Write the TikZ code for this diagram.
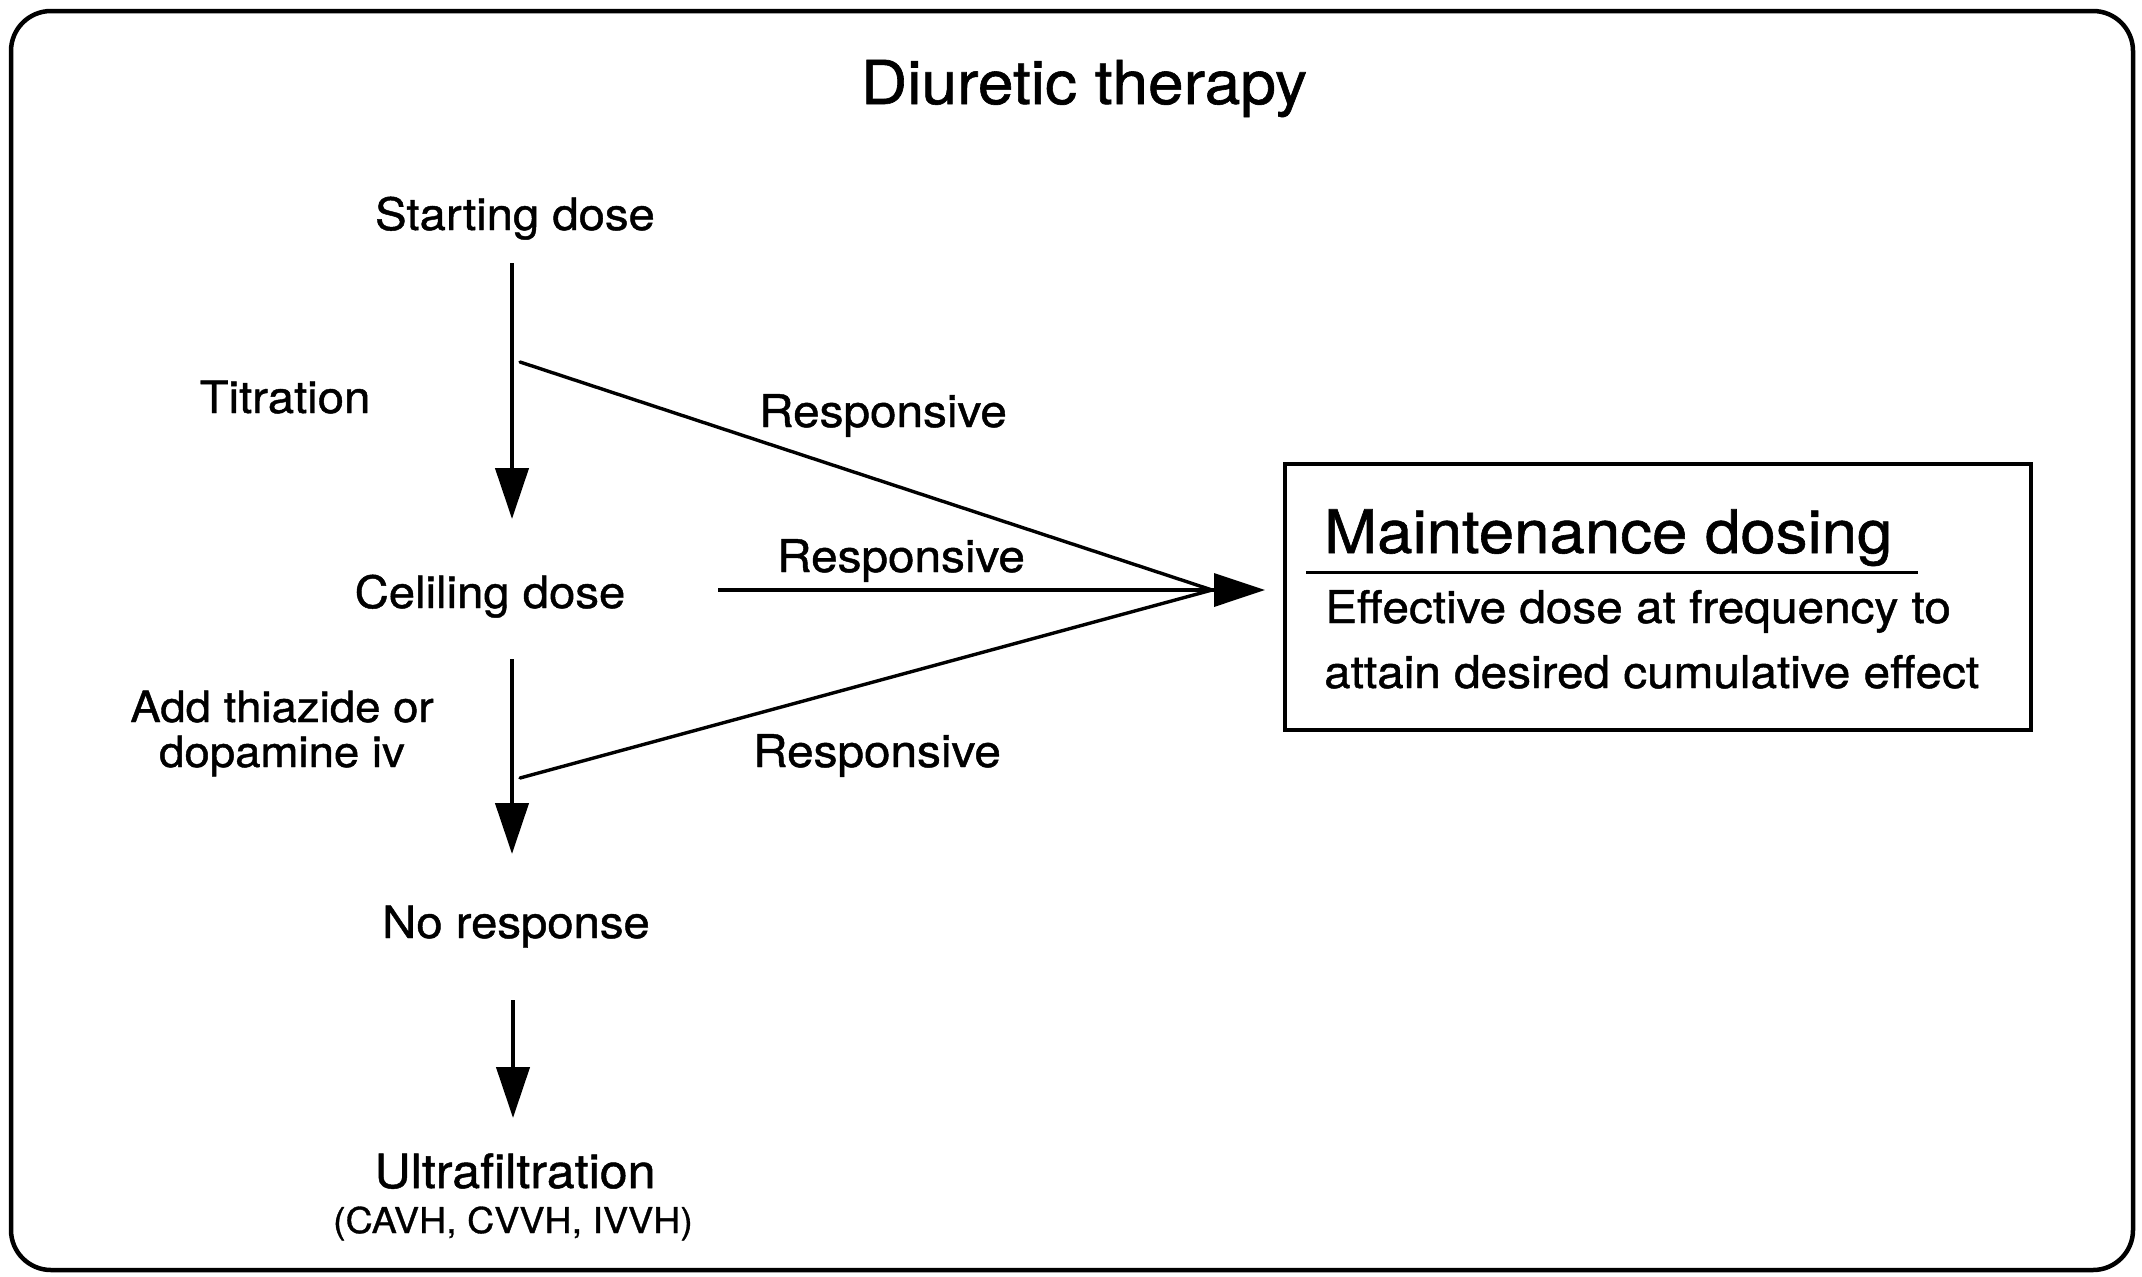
\documentclass[tikz,border=0pt]{standalone}
\usepackage{fontspec}
\setmainfont{TeX Gyre Heros}[FakeStretch=1.06, FakeBold=1]
\usetikzlibrary{arrows.meta}
\begin{document}
\begin{tikzpicture}[x=1pt,y=-1pt,
  lbl/.style={anchor=base, inner sep=0pt, font=\fontsize{44.6}{50}\selectfont},
  resp/.style={anchor=base, inner sep=0pt, font=\fontsize{45}{50}\selectfont},
  boxtxt/.style={anchor=base west, inner sep=0pt, font=\fontsize{45}{50}\selectfont},
  arr/.style={line width=4.4pt, -{Triangle[length=51pt,width=33pt]}},
  diag/.style={line width=3.4pt, line cap=round},
  frame/.style={line width=4.5pt, rounded corners=40pt}]
\useasboundingbox (0,0) rectangle (2142,1277);
\draw[frame] (11,11) rectangle (2133,1270);

% texts
\node[anchor=base, inner sep=0pt, font=\fontsize{60.5}{64}\selectfont] (title) at (1084,104) {Diuretic therapy};
\node[lbl] (start) at (515,230) {Starting dose};
\node[lbl] (titr) at (285,413) {Titration};
\node[lbl] (ceil) at (490,608) {Celiling dose};
\node[lbl, align=center, font=\fontsize{43}{45}\selectfont] (add) at (282,767) {Add thiazide or\\dopamine iv};
\node[lbl] (nores) at (516,938) {No response};
\node[lbl, font=\fontsize{47.3}{52}\selectfont] (ultra) at (515,1188) {Ultrafiltration};
\node[lbl, font=\fontsize{35.5}{40}\selectfont] (cavh) at (513,1233) {(CAVH, CVVH, IVVH)};
\node[resp] (r1) at (883,427) {Responsive};
\node[resp] (r2) at (901,572) {Responsive};
\node[resp] (r3) at (877,767) {Responsive};

% maintenance box
\node[draw, line width=4pt, minimum width=746pt, minimum height=266pt, inner sep=0pt] (box) at (1658,597) {};
\node[anchor=base west, inner sep=0pt, font=\fontsize{60}{64}\selectfont] (maint) at (1324,553) {Maintenance dosing};
\coordinate (ul1) at (1306,572);
\coordinate (ul2) at (1918,572);
\draw[line width=3pt] (ul1) -- (ul2);
\node[boxtxt] (eff) at (1325,623) {Effective dose at frequency to};
\node[boxtxt] (att) at (1324,688) {attain desired cumulative effect};

% connector ends
\coordinate (a1s) at (512,263);
\coordinate (a1e) at (512,519);
\coordinate (a2s) at (512,659);
\coordinate (a2e) at (512,854);
\coordinate (a3s) at (513,1000);
\coordinate (a3e) at (513,1118);
\coordinate (d1s) at (520,362);
\coordinate (d3s) at (520,778);
\coordinate (mid) at (1212,590);
\coordinate (m2s) at (718,590);
\coordinate (tip) at (1265,590);

\draw[arr] (a1s) -- (a1e);
\draw[arr] (a2s) -- (a2e);
\draw[arr] (a3s) -- (a3e);
\draw[diag] (d1s) -- (mid);
\draw[diag] (d3s) -- (mid);
\draw[arr, line width=3.6pt] (m2s) -- (tip);
\end{tikzpicture}
\end{document}
